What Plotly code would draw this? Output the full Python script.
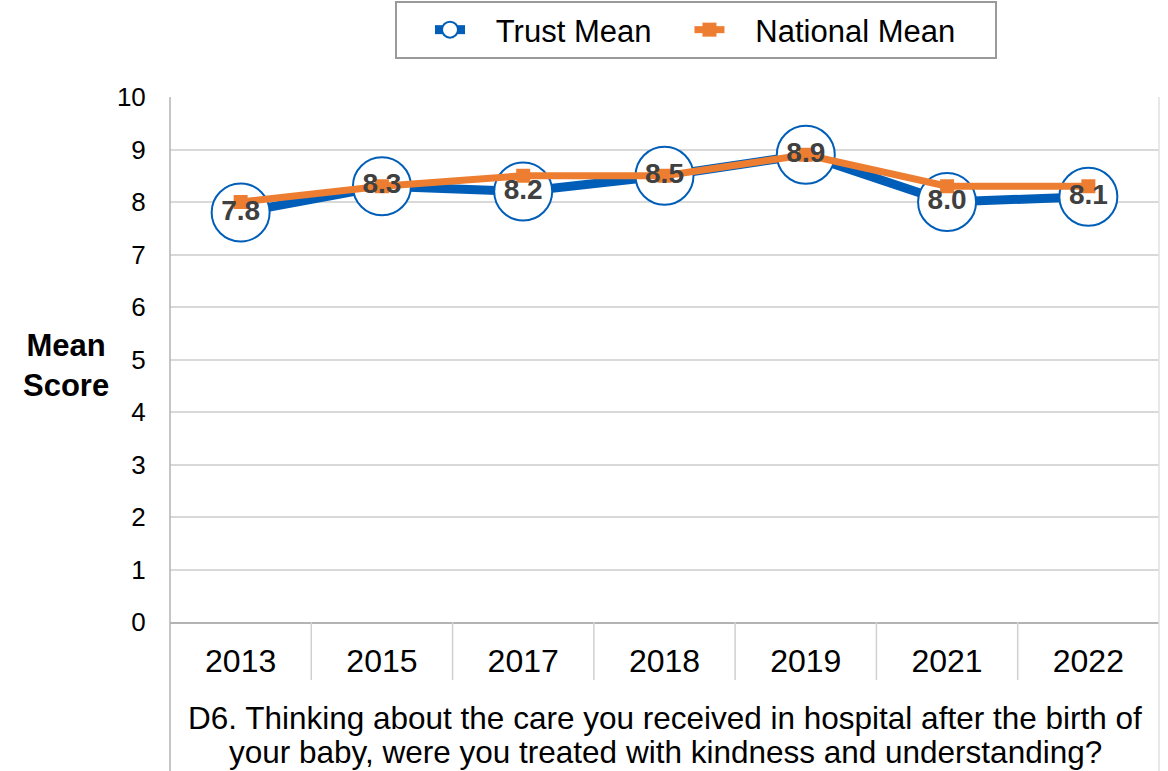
import plotly.graph_objects as go

# Survey years and mean scores (0-10 scale)
years = ["2013", "2015", "2017", "2018", "2019", "2021", "2022"]
trust_mean = [7.8, 8.3, 8.2, 8.5, 8.9, 8.0, 8.1]
national_mean = [8.0, 8.3, 8.5, 8.5, 8.9, 8.3, 8.3]

y_ticks = list(range(0, 11))
question_lines = [
    "D6. Thinking about the care you received in hospital after the birth of",
    "your baby, were you treated with kindness and understanding?",
]

FONT = "Arial, 'Liberation Sans', sans-serif"
BLUE = "#005EB8"
ORANGE = "#ED7D31"
GRID = "#D9D9D9"
AXIS = "#B3B3B3"
NBSP = "\u00a0"
PAD = NBSP * 3  # gap between legend symbol and its label

W, H = 1168, 771
L, R, T, B = 170, 9, 97, 149
plot_h = H - T - B


def py(px_below_axis):
    """Paper y coordinate for a pixel offset below the x axis."""
    return -px_below_axis / plot_h


fig = go.Figure()

fig.add_trace(go.Scatter(
    x=years, y=trust_mean, name=PAD + "Trust Mean",
    mode="lines+markers",
    line=dict(color=BLUE, width=9),
    marker=dict(symbol="circle", size=58, color="white",
                line=dict(color=BLUE, width=2)),
    hoverinfo="skip",
))

fig.add_trace(go.Scatter(
    x=years, y=national_mean, name=PAD + "National Mean" + NBSP * 4,
    mode="lines+markers",
    line=dict(color=ORANGE, width=7),
    marker=dict(symbol="square", size=14, color=ORANGE),
    hoverinfo="skip",
))

# Value labels for the trust series, drawn on top of both lines
fig.add_trace(go.Scatter(
    x=years, y=trust_mean, mode="text",
    text=[f"{v:.1f}" for v in trust_mean],
    textposition="middle center",
    textfont=dict(family=FONT, size=28, color="#404040", weight="bold"),
    showlegend=False, hoverinfo="skip",
))

shapes = []
# Category separators under the x axis
for i in range(1, len(years)):
    xb = i / len(years)
    shapes.append(dict(type="line", xref="paper", yref="paper",
                       x0=xb, x1=xb, y0=0, y1=py(58),
                       line=dict(color="#D0D0D0", width=1.5)))
# Left and right borders running down to the question box
shapes.append(dict(type="line", xref="paper", yref="paper",
                   x0=0, x1=0, y0=1, y1=py(H),
                   line=dict(color=AXIS, width=1.5)))
shapes.append(dict(type="line", xref="paper", yref="paper",
                   x0=1, x1=1, y0=1, y1=py(H),
                   line=dict(color="#E0E0E0", width=1.5)))

annotations = [
    dict(text="<b>Mean<br>Score</b>", xref="paper", yref="paper",
         x=(66 - L) / (W - L - R), y=(H - B - 365) / plot_h,
         xanchor="center", yanchor="middle", showarrow=False,
         font=dict(family=FONT, size=31, color="black")),
]
for line_txt, ypx in zip(question_lines, [96, 130]):
    annotations.append(dict(
        text=line_txt, xref="paper", yref="paper",
        x=(665 - L) / (W - L - R), y=py(ypx),
        xanchor="center", yanchor="middle", showarrow=False,
        font=dict(family=FONT, size=31.5, color="black"),
    ))

fig.update_layout(
    width=W, height=H,
    margin=dict(l=L, r=R, t=T, b=B, autoexpand=False),
    paper_bgcolor="white", plot_bgcolor="white",
    font=dict(family=FONT, color="black"),
    showlegend=True,
    legend=dict(
        orientation="h",
        x=(696 - L) / (W - L - R), xanchor="center",
        y=1 + (T - 1) / plot_h, yanchor="top",
        font=dict(family=FONT, size=31, color="black"),
        bordercolor="#9A9A9A", borderwidth=2,
        bgcolor="white",
        indentation=33,
        itemclick=False, itemdoubleclick=False,
    ),
    xaxis=dict(
        type="category", range=[-0.5, len(years) - 0.5],
        showgrid=False, zeroline=False,
        showline=True, linecolor=AXIS, linewidth=1.5,
        ticks="outside", ticklen=10, tickcolor="rgba(0,0,0,0)",
        tickfont=dict(family=FONT, size=32, color="black"),
        fixedrange=True,
    ),
    yaxis=dict(
        range=[0, 10], tickvals=y_ticks,
        showgrid=True, gridcolor=GRID, gridwidth=1.5,
        zeroline=False, showline=False,
        ticks="outside", ticklen=18, tickcolor="rgba(0,0,0,0)",
        tickfont=dict(family=FONT, size=26, color="black"),
        fixedrange=True,
    ),
    shapes=shapes,
    annotations=annotations,
)

fig.write_html("out.html", config={"displayModeBar": False})
